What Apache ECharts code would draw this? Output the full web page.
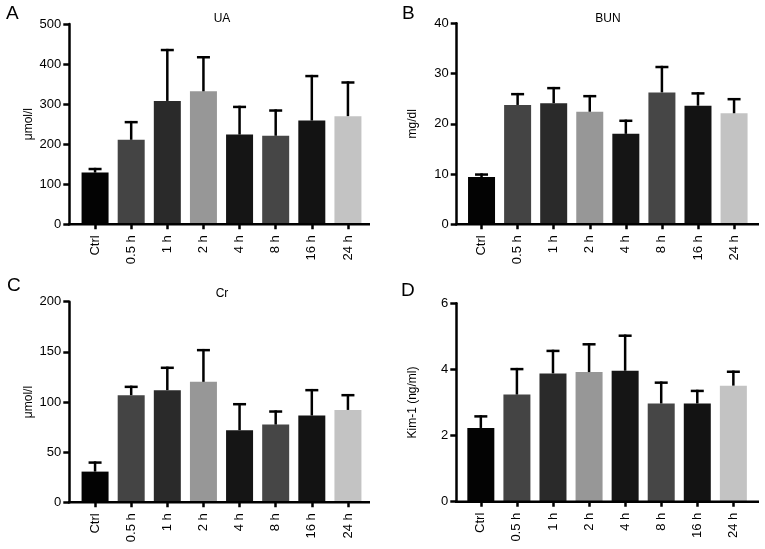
<!DOCTYPE html>
<html>
<head>
<meta charset="utf-8">
<script src="https://cdn.jsdelivr.net/npm/echarts@6/dist/echarts.min.js"></script>
<style>
html,body{margin:0;padding:0;background:#fff;}
#chart{width:765px;height:549px;}
</style>
</head>
<body>
<div id="chart"></div>
<script>
// ---- data ----
const categories = ['Ctrl', '0.5 h', '1 h', '2 h', '4 h', '8 h', '16 h', '24 h'];
const barColors = ['#030303', '#444444', '#2a2a2a', '#979797', '#151515', '#464646', '#131313', '#c3c3c3'];

const uaMean  = [129, 211, 308, 332, 224, 221, 259, 270];
const uaUpper = [138, 255, 435, 417, 293, 284, 370, 354];

const bunMean  = [9.4, 23.75, 24.1, 22.4, 18.0, 26.25, 23.6, 22.1];
const bunUpper = [9.9, 25.9, 27.1, 25.5, 20.6, 31.3, 26.05, 24.9];

const crMean  = [30.6, 106.8, 111.8, 120.1, 71.9, 77.5, 86.5, 92.1];
const crUpper = [39.6, 115.1, 134.1, 151.7, 97.8, 90.5, 111.8, 106.8];

const kimMean  = [2.23, 3.24, 3.88, 3.92, 3.96, 2.97, 2.97, 3.51];
const kimUpper = [2.58, 4.01, 4.56, 4.76, 5.02, 3.60, 3.35, 3.93];

const uaAxis  = {max: 500, interval: 100};
const bunAxis = {max: 40, interval: 10};
const crAxis  = {max: 200, interval: 50};
const kimAxis = {max: 6, interval: 2};

const panelLetters = ['A', 'B', 'C', 'D'];
const panelTitles = ['UA', 'BUN', 'Cr', ''];
const yNames = ['\u03bcmol/l', 'mg/dl', '\u03bcmol/l', 'Kim-1 (ng/ml)'];

// ---- layout ----
const FONT = '"Liberation Sans", Arial, Helvetica, sans-serif';
const panels = [
  {mean: uaMean,  upper: uaUpper,  axis: uaAxis,  grid: {left: 77,    top: 24,    width: 289,   height: 200.3}, yOff: 7.7, xEnd: 370, nameGap: 35, title: [217, 8],   letter: [6, 4]},
  {mean: bunMean, upper: bunUpper, axis: bunAxis, grid: {left: 463.5, top: 23.3,  width: 288.6, height: 201},   yOff: 6.8, xEnd: 759, nameGap: 38, title: [603, 8],   letter: [402, 4]},
  {mean: crMean,  upper: crUpper,  axis: crAxis,  grid: {left: 77,    top: 301.7, width: 289,   height: 200.6}, yOff: 7.7, xEnd: 370, nameGap: 35, title: [217, 283], letter: [7, 276]},
  {mean: kimMean, upper: kimUpper, axis: kimAxis, grid: {left: 462.8, top: 303.3, width: 288.6, height: 198.4}, yOff: 6.5, xEnd: 759, nameGap: 38, title: [603, 283], letter: [401, 281]}
];

const chart = echarts.init(document.getElementById('chart'), null, {renderer: 'canvas'});

const grids = [], xAxes = [], yAxes = [], series = [], titles = [];
panels.forEach((p, k) => {
  grids.push(Object.assign({containLabel: false}, p.grid));
  xAxes.push({
    type: 'category', gridIndex: k, data: categories,
    axisLine: {show: false},
    axisTick: {show: true, alignWithLabel: true, length: 5, lineStyle: {color: '#000', width: 2.5}},
    axisLabel: {rotate: 90, color: '#000', fontSize: 13, fontFamily: FONT, margin: 11, interval: 0},
    splitLine: {show: false}
  });
  yAxes.push({
    type: 'value', gridIndex: k, min: 0, max: p.axis.max, interval: p.axis.interval,
    offset: p.yOff,
    name: yNames[k], nameLocation: 'middle', nameGap: p.nameGap, nameRotate: 90,
    nameTextStyle: {color: '#000', fontSize: 12, fontFamily: FONT},
    axisLine: {show: true, lineStyle: {color: '#000', width: 2.5}},
    axisTick: {show: true, length: 6, lineStyle: {color: '#000', width: 2.5}},
    axisLabel: {color: '#000', fontSize: 13, fontFamily: FONT, margin: 8},
    splitLine: {show: false}
  });
  series.push({
    type: 'bar', xAxisIndex: k, yAxisIndex: k, barWidth: 27,
    data: p.mean.map((v, i) => ({value: v, itemStyle: {color: barColors[i]}})),
    z: 2
  });
  series.push({
    type: 'custom', xAxisIndex: k, yAxisIndex: k, z: 3,
    data: p.mean.map((v, i) => [i, v, p.upper[i]]),
    encode: {x: 0, y: [1, 2]},
    renderItem: function (params, api) {
      const i = api.value(0);
      const lo = api.coord([i, api.value(1)]);
      const hi = api.coord([i, api.value(2)]);
      const hw = 6.5;
      const st = {stroke: '#000', lineWidth: 2.5};
      return {
        type: 'group',
        children: [
          {type: 'line', shape: {x1: lo[0], y1: lo[1], x2: hi[0], y2: hi[1] - 1.2}, style: st},
          {type: 'line', shape: {x1: hi[0] - hw, y1: hi[1], x2: hi[0] + hw, y2: hi[1]}, style: st}
        ]
      };
    }
  });
  if (panelTitles[k]) {
    titles.push({
      text: panelTitles[k], left: p.title[0], top: p.title[1], textAlign: 'center',
      textStyle: {color: '#000', fontSize: 12, fontWeight: 'normal', fontFamily: FONT}
    });
  }
});

chart.setOption({
  animation: false,
  backgroundColor: '#fff',
  title: titles,
  grid: grids,
  xAxis: xAxes,
  yAxis: yAxes,
  series: series
});

// x-axis baselines (from the y-axis line to the end of the panel) and panel letters
const graphics = [];
panels.forEach((p, k) => {
  const y0 = chart.convertToPixel({yAxisIndex: k}, 0);
  const xStart = p.grid.left - p.yOff - 1.25;
  graphics.push({
    type: 'line', z: 10,
    shape: {x1: xStart, y1: y0, x2: p.xEnd, y2: y0},
    style: {stroke: '#000', lineWidth: 2.5}
  });
  graphics.push({
    type: 'text', left: p.letter[0], top: p.letter[1], z: 10,
    style: {text: panelLetters[k], fill: '#000', fontSize: 19, fontFamily: FONT}
  });
});
chart.setOption({graphic: graphics});
</script>
</body>
</html>
